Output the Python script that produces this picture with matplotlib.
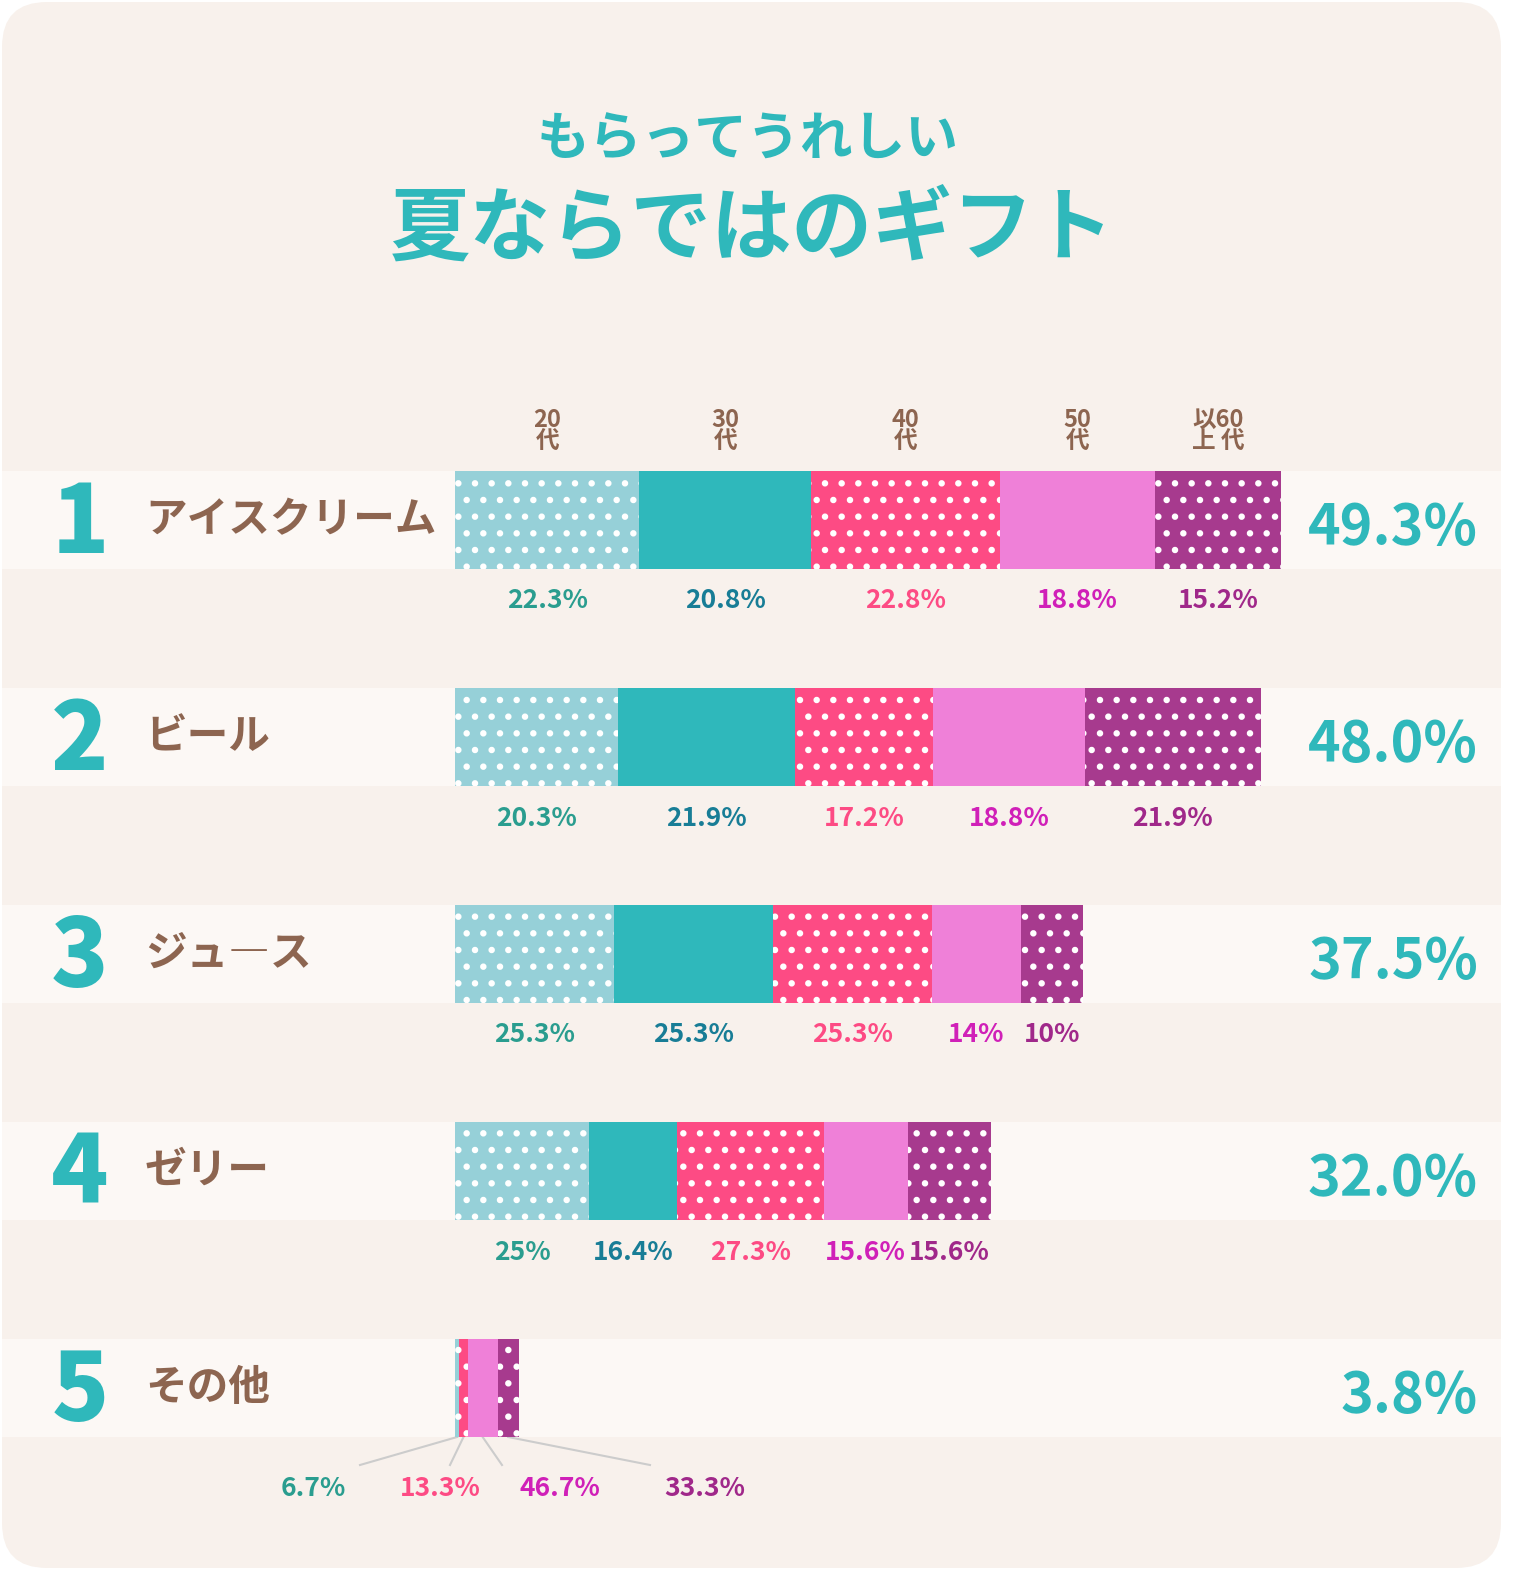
import matplotlib.pyplot as plt
from matplotlib.patches import FancyBboxPatch
import matplotlib as mpl

mpl.rcParams['hatch.linewidth'] = 2.2

W, H = 1513, 1580
FONT = "Noto Sans CJK JP"

# --- data ---
ranks = ['1', '2', '3', '4', '5']
items = ['アイスクリーム', 'ビール', 'ジュ―ス', 'ゼリー', 'その他']
totals = [49.3, 48.0, 37.5, 32.0, 3.8]
ages = ['20\n代', '30\n代', '40\n代', '50\n代', '以60\n上 代']
shares = [
    [22.3, 20.8, 22.8, 18.8, 15.2],
    [20.3, 21.9, 17.2, 18.8, 21.9],
    [25.3, 25.3, 25.3, 14.0, 10.0],
    [25.0, 16.4, 27.3, 15.6, 15.6],
    [6.7, 0.0, 13.3, 46.7, 33.3],
]
share_labels = [
    ['22.3%', '20.8%', '22.8%', '18.8%', '15.2%'],
    ['20.3%', '21.9%', '17.2%', '18.8%', '21.9%'],
    ['25.3%', '25.3%', '25.3%', '14%', '10%'],
    ['25%', '16.4%', '27.3%', '15.6%', '15.6%'],
    ['6.7%', '', '13.3%', '46.7%', '33.3%'],
]

# --- style ---
fills = ['#96d0d8', '#2fb8bb', '#fd4b84', '#ef80d8', '#a73a8e']
dotted = [True, False, True, False, True]
txt_cols = ['#2a9d8f', '#187d96', '#fd4b84', '#d020b8', '#a0288a']
TEAL = '#2fb8bb'
BROWN = '#8d6550'
BG = '#f8f1ec'
BAND = '#fcf8f5'
X0 = 455
PX = 827 / 49.3          # pixels per percentage point
row_y = [520, 737, 954, 1171, 1388]
BAR_H = 98

fig = plt.figure(figsize=(W / 100, H / 100), dpi=100)
fig.patch.set_facecolor('white')
ax = fig.add_axes([0, 0, 1, 1])
ax.set_xlim(0, W)
ax.set_ylim(H, 0)
ax.axis('off')

ax.add_patch(FancyBboxPatch((2, 2), W - 14, H - 14, boxstyle='round,pad=0,rounding_size=45',
                            fc=BG, ec='none'))

ax.text(748, 140, 'もらってうれしい', ha='center', va='center', fontsize=38,
        fontweight='bold', color=TEAL, family=FONT)
ax.text(752, 230, '夏ならではのギフト', ha='center', va='center', fontsize=58,
        fontweight='bold', color=TEAL, family=FONT)

for i, y in enumerate(row_y):
    ax.add_patch(plt.Rectangle((2, y - BAR_H / 2), W - 14, BAR_H, fc=BAND, ec='none'))
    ax.text(80, y + 5, ranks[i], ha='center', va='center', fontsize=68,
            fontweight='black', color=TEAL, family=FONT)
    ax.text(145, y, items[i], ha='left', va='center', fontsize=30,
            fontweight='bold', color=BROWN, family=FONT)
    ax.text(1478, y + 8, f'{totals[i]:.1f}%', ha='right', va='center', fontsize=40,
            fontweight='bold', color=TEAL, family=FONT)

# bars in percent units
bx = fig.add_axes([X0 / W, 0, (W - X0) / W, 1])
bx.set_xlim(0, (W - X0) / PX)
bx.set_ylim(H, 0)
bx.axis('off')

for i, y in enumerate(row_y):
    left = 0.0
    for j, s in enumerate(shares[i]):
        w = totals[i] * s / 100
        bx.barh(y, w, left=left, height=BAR_H, color=fills[j],
                hatch='.' if dotted[j] else None, edgecolor='white' if dotted[j] else fills[j],
                linewidth=0)
        c = left + w / 2
        if i < 4:
            bx.text(c, y + BAR_H / 2 + 32, share_labels[i][j], ha='center', va='center',
                    fontsize=19, fontweight='bold', color=txt_cols[j], family=FONT)
            if i == 0:
                bx.text(c, y - BAR_H / 2 - 40, ages[j], ha='center', va='center',
                        fontsize=17, fontweight='bold', color=BROWN, family=FONT,
                        linespacing=0.9)
        left += w

# row 5 labels with leader lines
lab_x = [313, None, 440, 560, 705]
line_end = [360, None, 450, 502, 650]
left = 0.0
y5 = row_y[4] + BAR_H / 2
for j, s in enumerate(shares[4]):
    w = totals[4] * s / 100
    c = X0 + (left + w / 2) * PX
    if lab_x[j] is not None:
        ax.plot([c, line_end[j]], [y5, 1465], color='#cccccc', lw=1.5)
        ax.text(lab_x[j], 1488, share_labels[4][j], ha='center', va='center',
                fontsize=19, fontweight='bold', color=txt_cols[j], family=FONT)
    left += w

fig.savefig('out.png', dpi=100, facecolor='white')
